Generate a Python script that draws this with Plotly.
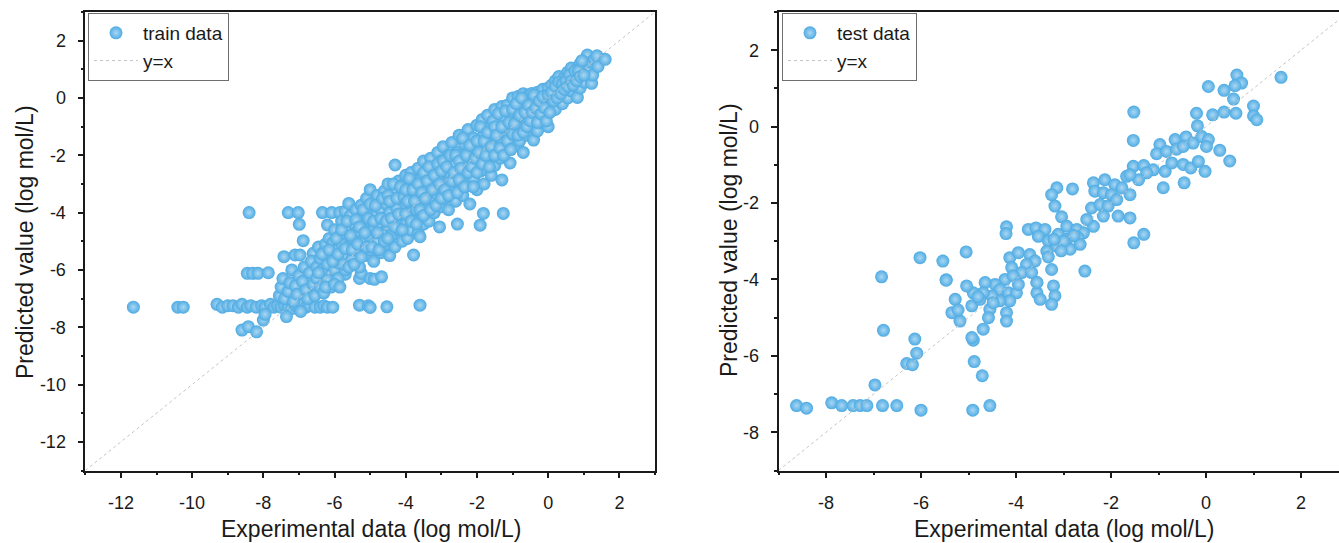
import plotly.graph_objects as go

# ---------------- data ----------------
# training set: experimental (x) vs predicted (y), log mol/L
train_x = [
    -11.65, -10.4, -10.25,
    -9.3, -9.15, -9.0, -8.85, -8.7, -8.6, -8.45, -8.35, -8.2, -8.05, -7.95, -7.8, -7.7, -7.6,
    -7.5, -7.4, -7.3, -7.2, -7.1, -7.0, -6.9, -6.8, -6.7, -6.55, -6.4, -6.3, -6.2, -6.05,
    -8.6, -8.42, -8.19, -8.0, -7.95, -7.35, -5.3, -5.05, -5.0, -4.53, -3.6,
    -8.4, -7.3, -7.02, -6.34, -6.08, -5.85, -6.99, -6.2, -6.88, -7.42, -7.11, -6.97, -6.6, -8.45, -8.3, -8.15, -7.86, -7.2,
    -6.0, -5.7, -5.3, -5.25, -5.0, -4.88, -4.68,
    -7.55, -7.5, -7.45, -7.4, -7.3, -7.25, -7.15, -7.1, -7.05, -7.0, -6.95,
    -6.9, -6.85, -6.8, -6.75, -6.7, -6.65, -6.6, -6.55, -6.5, -6.5, -6.45, -6.4, -6.4, -6.35, -6.3, -6.3,
    -6.25, -6.2, -6.2, -6.15, -6.1, -6.1, -6.05, -6.0, -6.0, -5.95, -5.9, -5.9, -5.85, -5.8, -5.8, -5.75, -5.7, -5.7,
    -5.65, -5.6, -5.6, -5.55, -5.5, -5.5, -5.45, -5.4, -5.4, -5.35, -5.3, -5.3, -5.25, -5.2, -5.2, -5.15, -5.1, -5.1, -5.05, -5.0, -5.0, -5.0,
    -4.95, -4.9, -4.9, -4.85, -4.8, -4.8, -4.75, -4.7, -4.7, -4.65, -4.6, -4.6, -4.55, -4.55, -4.5, -4.5, -4.45, -4.45,
    -4.4, -4.4, -4.3, -4.35, -4.3, -4.3, -4.25, -4.2, -4.2, -4.15, -4.1, -4.1, -4.05, -4.0, -4.0, -4.0, -3.95,
    -3.9, -3.9, -3.85, -3.85, -3.8, -3.78, -3.75, -3.75, -3.7, -3.7, -3.65, -3.65, -3.6, -3.6, -3.55, -3.55, -3.5, -3.5, -3.5,
    -3.45, -3.4, -3.4, -3.35, -3.35, -3.3, -3.3, -3.25, -3.2, -3.2, -3.15, -3.1, -3.1, -3.05, -3.05, -3.0, -3.0, -3.0,
    -2.95, -2.9, -2.9, -2.85, -2.8, -2.8, -2.75, -2.7, -2.7, -2.65, -2.6, -2.6, -2.55, -2.55, -2.5, -2.5, -2.5,
    -2.45, -2.4, -2.4, -2.35, -2.35, -2.3, -2.25, -2.25, -2.2, -2.2, -2.15, -2.1, -2.1, -2.05, -2.0, -2.0, -2.0,
    -1.95, -1.91, -1.9, -1.85, -1.85, -1.82, -1.8, -1.8, -1.75, -1.7, -1.7, -1.65, -1.6, -1.6, -1.55, -1.5, -1.5, -1.5,
    -1.45, -1.4, -1.3, -1.35, -1.35, -1.3, -1.3, -1.26, -1.25, -1.2, -1.2, -1.15, -1.1, -1.07, -1.05, -1.0, -1.0, -1.0,
    -0.95, -0.9, -0.9, -0.85, -0.85, -0.8, -0.75, -0.75, -0.7, -0.7, -0.65, -0.6, -0.6, -0.55, -0.5, -0.46, -0.45, -0.41,
    -0.4, -0.35, -0.3, -0.3, -0.25, -0.2, -0.2, -0.15, -0.1, -0.1, -0.05, 0.0, 0.0, 0.0,
    0.05, 0.1, 0.1, 0.15, 0.2, 0.2, 0.25, 0.3, 0.3, 0.35, 0.4, 0.4, 0.45, 0.5,
    0.55, 0.55, 0.6, 0.65, 0.65, 0.7, 0.75, 0.8, 0.82, 0.85, 0.9, 0.9, 0.95, 1.0, 1.0,
    1.05, 1.1, 1.1, 1.15, 1.2, 1.22, 1.25, 1.3, 1.37, 1.4, 1.6,
    # interior of the dense band
    -6.45, -6.35, -6.25, -6.15, -6.05, -6.0, -5.95,
    -5.9, -5.85, -5.8, -5.75, -5.7, -5.65, -5.6, -5.55, -5.5,
    -5.45, -5.4, -5.35, -5.3, -5.25, -5.2, -5.15, -5.1, -5.05, -5.0,
    -4.95, -4.9, -4.85, -4.8, -4.75, -4.7, -4.65, -4.6, -4.55, -4.5, -4.5,
    -4.45, -4.4, -4.35, -4.3, -4.25, -4.2, -4.15, -4.1, -4.05, -4.0, -4.0,
    -3.95, -3.9, -3.85, -3.8, -3.75, -3.7, -3.65, -3.6, -3.55, -3.5, -3.5,
    -3.45, -3.4, -3.35, -3.3, -3.25, -3.2, -3.15, -3.1, -3.05, -3.0, -3.0,
    -2.95, -2.9, -2.85, -2.8, -2.75, -2.7, -2.65, -2.6, -2.55, -2.5, -2.5,
    -2.45, -2.4, -2.35, -2.3, -2.25, -2.2, -2.15, -2.1, -2.05, -2.0, -2.0,
    -1.95, -1.9, -1.85, -1.8, -1.75, -1.7, -1.65, -1.6, -1.55, -1.5, -1.5,
    -1.45, -1.4, -1.35, -1.3, -1.25, -1.2, -1.15, -1.1, -1.05, -1.0, -1.0,
    -0.95, -0.9, -0.85, -0.8, -0.75, -0.7, -0.65, -0.6, -0.55, -0.5,
    -0.45, -0.4, -0.35, -0.3, -0.25, -0.2, -0.15, -0.1, -0.05, 0.0,
    0.05, 0.1, 0.15, 0.2, 0.25, 0.3, 0.35, 0.4, 0.45, 0.5,
    0.55, 0.6, 0.65, 0.7, 0.75, 0.8, 0.85, 0.9, 0.95, 1.0,
]
train_y = [
    -7.3, -7.3, -7.3,
    -7.2, -7.3, -7.25, -7.25, -7.3, -7.2, -7.3, -7.25, -7.3, -7.25, -7.3, -7.2, -7.3, -7.25,
    -7.3, -7.25, -7.3, -7.35, -7.25, -7.3, -7.2, -7.3, -7.25, -7.3, -7.3, -7.25, -7.3, -7.3,
    -8.1, -7.98, -8.16, -7.75, -7.55, -7.63, -7.23, -7.25, -7.31, -7.29, -7.23,
    -4.0, -4.0, -4.0, -4.0, -4.0, -4.0, -4.41, -4.43, -4.98, -5.54, -5.48, -5.48, -5.42, -6.12, -6.12, -6.12, -6.1, -6.0,
    -6.2, -6.15, -6.3, -6.12, -6.3, -6.33, -6.24,
    -6.9, -6.6, -6.3, -7.0, -6.75, -6.45, -7.1, -6.55, -6.85, -6.2, -7.45,
    -6.4, -5.9, -6.7, -7.0, -6.1, -5.7, -6.5, -6.9, -5.9, -6.3, -5.2, -6.6, -5.6, -6.0, -5.35, -6.8,
    -5.1, -5.8, -6.35, -4.9, -5.5, -6.6, -5.05, -6.0, -4.6, -5.3, -5.75, -6.3, -4.8, -5.1, -4.3, -5.5, -6.0, -3.95,
    -4.6, -5.2, -3.68, -4.1, -5.6, -4.9, -4.4, -3.9, -5.3, -4.65, -5.9, -4.2, -3.74, -5.0, -4.45, -5.5, -3.5, -4.0, -4.8, -5.3, -4.3, -3.2,
    -3.7, -4.6, -5.7, -4.1, -3.4, -5.0, -4.4, -3.9, -5.4, -4.7, -3.25, -4.2, -3.7, -5.1, -4.45, -3.0, -4.0, -5.5,
    -3.5, -4.8, -2.34, -4.25, -3.2, -5.2, -3.85, -4.6, -2.9, -3.5, -4.1, -5.0, -3.0, -3.7, -4.4, -2.7, -4.9,
    -3.3, -4.0, -2.6, -4.6, -3.6, -5.48, -2.9, -4.25, -3.15, -3.9, -2.45, -4.7, -3.45, -4.84, -2.8, -4.05, -3.7, -2.2, -4.4,
    -3.1, -2.55, -3.85, -3.35, -4.3, -2.1, -2.85, -3.6, -2.4, -4.0, -3.1, -1.9, -3.4, -2.7, -4.5, -3.2, -2.2, -3.8,
    -1.7, -2.5, -3.5, -2.95, -2.0, -3.9, -2.7, -3.25, -1.55, -2.3, -3.6, -2.85, -4.4, -1.9, -2.55, -3.1, -1.3,
    -2.0, -3.4, -2.7, -1.6, -2.25, -3.0, -1.1, -1.9, -2.5, -3.7, -2.15, -1.4, -2.8, -1.75, -2.3, -0.95, -3.2,
    -1.5, -4.44, -2.55, -0.75, -2.0, -4.03, -1.25, -3.0, -1.7, -2.25, -0.6, -1.45, -2.7, -1.0, -1.95, -0.4, -1.3, -2.35,
    -1.65, -0.85, -2.86, -1.2, -2.1, -0.3, -1.5, -4.03, -0.7, -1.85, -1.05, -0.25, -1.3, -2.27, -0.6, -0.95, -1.6, 0.0,
    -0.35, -1.2, -1.65, 0.05, -0.75, -1.5, -0.5, -1.0, 0.15, -1.9, -0.2, -0.8, -1.3, 0.1, -0.45, 0.16, -1.0, -1.47,
    -0.15, -0.7, 0.2, -1.15, -0.4, 0.0, -0.85, 0.3, -0.25, -0.6, 0.1, -0.4, 0.35, -1.0,
    0.0, 0.45, -0.3, 0.15, -0.4, 0.6, 0.3, -0.1, 0.75, 0.45, 0.1, -0.2, 0.7, 0.35,
    0.0, 0.9, 0.55, 0.25, 1.05, 0.75, 0.4, 1.0, 0.02, 0.65, 1.2, 0.35, 0.85, 1.1, 0.55,
    1.3, 1.5, 0.8, 1.0, 1.25, 0.51, 0.8, 1.35, 1.47, 1.1, 1.35,
    # interior of the dense band
    -6.1, -5.45, -6.6, -5.3, -5.7, -6.5, -4.9,
    -5.45, -6.6, -4.6, -5.8, -5.25, -4.3, -5.9, -4.8, -5.3,
    -5.8, -4.25, -5.1, -4.5, -5.55, -3.9, -4.7, -5.2, -4.2, -3.7,
    -5.2, -4.3, -3.75, -4.7, -5.3, -4.2, -3.5, -5.0, -4.3, -3.4, -4.9,
    -3.6, -4.2, -3.0, -4.5, -3.5, -4.05, -3.1, -4.6, -3.45, -4.05, -3.2,
    -3.6, -2.8, -4.3, -3.2, -3.6, -4.4, -3.0, -3.9, -3.3, -2.6, -4.1,
    -3.5, -2.9, -2.4, -3.9, -3.2, -2.7, -3.75, -2.3, -3.0, -2.55, -3.5,
    -2.2, -3.2, -2.4, -3.4, -2.0, -2.9, -2.6, -2.0, -3.3, -2.2, -2.85,
    -2.45, -1.4, -3.1, -2.0, -2.6, -1.65, -2.4, -3.1, -2.1, -1.5, -2.6,
    -1.9, -1.0, -2.3, -1.5, -2.0, -1.2, -2.4, -1.7, -0.8, -2.0, -1.0,
    -1.3, -0.55, -1.75, -1.0, -2.0, -0.45, -1.5, -0.85, -1.8, -1.25, -0.4,
    -0.9, -0.2, -1.3, -0.6, 0.0, -1.2, -0.5, -1.0, -0.25, -0.8,
    -0.5, 0.1, -0.35, -0.85, -0.1, -0.55, 0.05, -0.35, -0.8, 0.1,
    -0.5, 0.2, -0.1, 0.4, 0.0, 0.55, 0.15, 0.5, 0.3, 0.6,
    0.4, 0.8, 0.6, 0.45, 0.95, 0.6, 0.95, 0.75, 1.3, 0.8,
]

# test set
test_x = [
    -8.62, -8.41, -7.88, -7.67, -7.43, -7.28, -7.14, -6.81, -6.51, -6.0, -4.91, -4.55,
    -6.97, -6.83, -6.79, -6.13, -6.09, -6.3, -6.18, -5.47, -4.9, -4.88, -4.71,
    -6.02, -5.54, -5.05, -5.47, -4.2, -4.21, -3.74,
    -4.13, -3.95, -3.71, -3.6, -3.78, -4.09, -3.88, -3.67, -3.56, -4.23, -4.06, -4.44, -4.65,
    -4.34, -4.16, -3.99, -4.13, -4.34, -4.51, -4.69, -4.9, -5.04, -5.28, -5.35, -5.18, -4.93,
    -4.76, -4.55, -4.58, -4.2, -4.2, -4.69, -4.93, -5.22, -4.8, -4.48, -3.95,
    -3.56, -3.49, -3.21, -3.18, -3.25, -3.56,
    -3.58, -3.39, -3.53, -3.14, -3.25, -3.18, -2.81, -3.04, -2.93, -2.72, -2.58, -2.69,
    -3.32, -3.35, -3.14, -3.11, -2.93, -2.86, -2.65, -3.32, -3.25, -2.55, -3.0, -2.78, -3.2, -3.05,
    -2.37, -2.13, -1.92, -2.34, -2.16, -1.99, -1.77, -1.67, -1.6, -2.41, -2.23, -2.06,
    -1.88, -1.85, -2.16, -2.37, -2.51, -1.6, -1.52, -1.31,
    1.58, 0.65, 0.75, 0.61, 0.38, 0.05, 0.58, 1.0, 1.0, 1.07, 0.63, 0.38, 0.14, -0.2, -0.18,
    -1.52, -1.53, 0.29, 0.5,
    -0.97, -1.04, -0.83, -0.65, -0.42, -0.27, -0.09, 0.05, 0.01, -0.62, -0.48,
    -0.86, -0.72, -0.48, -0.32, -0.16, -0.02, -0.46, -0.9,
    -1.53, -1.31, -1.11, -1.25, -1.42, -1.6,
]
test_y = [
    -7.3, -7.37, -7.23, -7.3, -7.3, -7.3, -7.3, -7.3, -7.3, -7.42, -7.42, -7.3,
    -6.76, -3.93, -5.33, -5.56, -5.93, -6.2, -6.23, -4.01, -5.59, -6.15, -6.52,
    -3.43, -3.52, -3.28, -4.02, -2.62, -2.80, -2.69,
    -3.43, -3.3, -3.35, -3.52, -3.61, -3.69, -3.82, -3.82, -4.08, -4.0, -3.91, -4.13, -4.08,
    -4.26, -4.35, -4.35, -4.56, -4.56, -4.43, -4.35, -4.35, -4.17, -4.52, -4.87, -5.09, -4.69,
    -4.52, -4.78, -5.0, -4.87, -5.09, -5.3, -5.52, -4.8, -4.45, -4.61, -4.13,
    -4.35, -4.52, -4.17, -4.43, -4.65, -4.08,
    -2.65, -2.69, -2.87, -1.6, -1.78, -2.08, -1.63, -2.36, -2.61, -2.69, -2.78, -2.91,
    -2.99, -3.26, -3.13, -2.82, -2.95, -3.21, -3.08, -3.41, -3.74, -3.78, -3.0, -2.85, -2.95, -3.25,
    -1.47, -1.39, -1.52, -1.69, -1.73, -1.78, -1.6, -1.3, -1.78, -2.13, -2.04, -2.08,
    -1.91, -2.34, -2.34, -2.61, -2.43, -2.39, -3.04, -2.82,
    1.29, 1.35, 1.14, 1.07, 0.95, 1.05, 0.72, 0.54, 0.28, 0.18, 0.35, 0.38, 0.31, 0.35, 0.02,
    0.38, -0.36, -0.62, -0.9,
    -0.47, -0.71, -0.65, -0.34, -0.27, -0.43, -0.26, -0.34, -0.52, -0.59, -0.52,
    -1.17, -0.95, -0.99, -1.08, -0.91, -1.17, -1.47, -1.6,
    -1.04, -1.02, -1.13, -1.21, -1.39, -1.26,
]
assert len(train_x) == len(train_y)
assert len(test_x) == len(test_y)

# y = x reference lines span each panel's axis range
diag_train = [-13, 3]
diag_test = [-9, 3]

# axis ranges and tick labels
range_train = [-13, 3]
range_test_x = [-9, 2.8]
range_test_y = [-9, 3]
ticks_train = [-12, -10, -8, -6, -4, -2, 0, 2]
ticks_test = [-8, -6, -4, -2, 0, 2]
labels_train = ["-12", "-10", "-8", "-6", "-4", "-2", "0", "2"]
labels_test = ["-8", "-6", "-4", "-2", "0", "2"]

# ---------------- figure ----------------
W, H = 1339, 543
FONT = "Arial, 'Liberation Sans', Helvetica, sans-serif"
BLUE = "rgb(78,171,227)"
INK = "#1a1a1a"

marker_style = dict(size=13, color=BLUE, line=dict(width=0),
                    gradient=dict(type="radial", color="rgb(170,215,243)"))
line_style = dict(color="#c4c4c4", width=1, dash="dot")

fig = go.Figure()
fig.add_trace(go.Scatter(x=train_x, y=train_y, mode="markers", name="train data",
                         marker=marker_style, xaxis="x", yaxis="y", legend="legend"))
fig.add_trace(go.Scatter(x=diag_train, y=diag_train, mode="lines", name="y=x",
                         line=line_style, xaxis="x", yaxis="y", legend="legend"))
fig.add_trace(go.Scatter(x=test_x, y=test_y, mode="markers", name="test data",
                         marker=marker_style, xaxis="x2", yaxis="y2", legend="legend2"))
fig.add_trace(go.Scatter(x=diag_test, y=diag_test, mode="lines", name="y=x",
                         line=line_style, xaxis="x2", yaxis="y2", legend="legend2"))


def axis(domain, rng, tickvals, ticktext, mirror, anchor, standoff):
    return dict(
        domain=domain, range=rng, anchor=anchor, showline=True, linecolor=INK, linewidth=1.6,
        mirror=mirror, ticks="outside", ticklen=6, tickwidth=1.5, tickcolor=INK,
        tickmode="array", tickvals=tickvals, ticktext=ticktext,
        tickfont=dict(family=FONT, size=18, color=INK), ticklabelstandoff=standoff,
        minor=dict(ticks="outside", ticklen=3, tickwidth=1.5, tickcolor=INK,
                   tickmode="linear", tick0=0, dtick=1, showgrid=False),
        showgrid=False, zeroline=False, automargin=False, fixedrange=True,
    )


def px_x(p):
    return p / W


def px_y(p):
    return 1 - p / H


yd = [px_y(470.5), px_y(12)]
leg = dict(xanchor="left", yanchor="top", bgcolor="white", bordercolor="#6e6e6e", borderwidth=1,
           font=dict(family=FONT, size=19, color=INK), tracegroupgap=0, itemwidth=44)
fig.update_layout(
    width=W, height=H, margin=dict(l=0, r=0, t=0, b=0),
    paper_bgcolor="white", plot_bgcolor="white",
    font=dict(family=FONT, color=INK),
    xaxis=axis([px_x(85.3), px_x(655)], range_train, ticks_train, labels_train, True, "y", 9),
    yaxis=axis(yd, range_train, ticks_train, labels_train, True, "x", 8),
    xaxis2=axis([px_x(778.5), 1.0], range_test_x, ticks_test, labels_test, True, "y2", 9),
    yaxis2=axis(yd, range_test_y, ticks_test, labels_test, False, "x2", 8),
    legend=dict(x=px_x(88), y=px_y(13), **leg),
    legend2=dict(x=px_x(782), y=px_y(13), **leg),
    showlegend=True,
)

title_font = dict(family=FONT, size=23, color=INK)
fig.add_annotation(text="Experimental data (log mol/L)", x=px_x(371), y=px_y(529),
                   xref="paper", yref="paper", showarrow=False, font=title_font,
                   xanchor="center", yanchor="middle")
fig.add_annotation(text="Experimental data (log mol/L)", x=px_x(1063.5), y=px_y(529),
                   xref="paper", yref="paper", showarrow=False, font=title_font,
                   xanchor="center", yanchor="middle")
fig.add_annotation(text="Predicted value (log mol/L)", x=px_x(25), y=px_y(242),
                   xref="paper", yref="paper", showarrow=False, font=title_font,
                   textangle=-90, xanchor="center", yanchor="middle")
fig.add_annotation(text="Predicted value (log mol/L)", x=px_x(729), y=px_y(240),
                   xref="paper", yref="paper", showarrow=False, font=title_font,
                   textangle=-90, xanchor="center", yanchor="middle")

fig.write_html("out.html", config={"displayModeBar": False},
               post_script="document.body.style.margin='0';document.body.style.overflow='hidden';")
